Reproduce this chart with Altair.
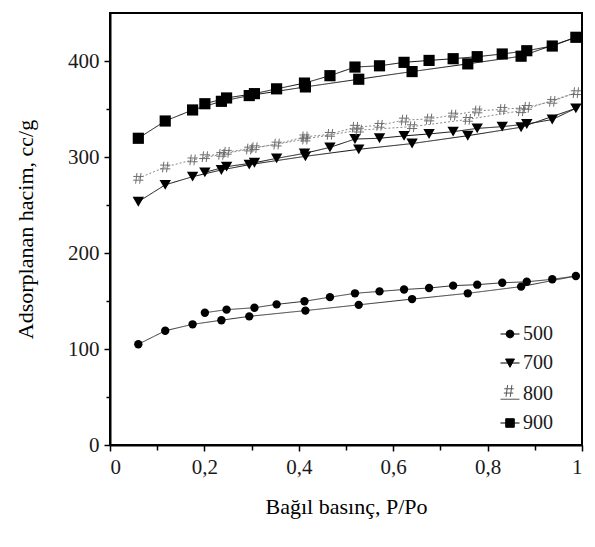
import altair as alt
import pandas as pd

SERIES = ["500", "700", "800", "900"]

# relative pressure of adsorption branch and desorption branch points
ADS_P = [0.060, 0.117, 0.175, 0.236, 0.295, 0.414, 0.527, 0.640, 0.758, 0.871, 0.987]
DES_P = [0.937, 0.883, 0.831, 0.778, 0.727, 0.676, 0.623, 0.571, 0.519, 0.466, 0.412,
         0.353, 0.306, 0.247, 0.201]

ADS_500 = [105, 119, 125.7, 130, 134, 140, 146, 152, 158, 165, 176]
DES_500 = [172.6, 170, 169, 167, 166, 163.5, 162, 160, 158, 154, 149.7, 146.5, 143, 141, 137.8]

ADS_700 = [253.4, 271, 279.5, 286.5, 292, 300.7, 308, 314, 322.2, 331, 350.7]
DES_700 = [339, 334.4, 331.6, 329.8, 326.4, 324, 322, 319.5, 318.7, 310, 303.8, 298.6, 294, 290, 284]

ADS_800 = [277.8, 289.6, 297, 302.8, 308.3, 318.7, 328, 331.6, 339.2, 348.2, 367]
DES_800 = [358, 351.7, 349.7, 348, 343.7, 339.6, 338.5, 333, 331, 323.6, 321, 313.5, 309.7, 304.9, 300.3]

ADS_900 = [319.5, 337.5, 349, 358, 364, 373, 381, 389, 397, 405, 424.7]
DES_900 = [415.6, 410.7, 407.3, 404.5, 402.4, 400.6, 398.6, 395, 393.7, 384.7, 377, 371, 366, 361.5, 355.5]

ADS = {"500": ADS_500, "700": ADS_700, "800": ADS_800, "900": ADS_900}
DES = {"500": DES_500, "700": DES_700, "800": DES_800, "900": DES_900}

X_TICKS = [0, 0.1, 0.2, 0.3, 0.4, 0.5, 0.6, 0.7, 0.8, 0.9, 1]
Y_TICKS = [0, 50, 100, 150, 200, 250, 300, 350, 400]

rows = []
for s in SERIES:
    seq = list(zip(ADS_P, ADS[s])) + list(zip(DES_P, DES[s]))
    for i, (p, v) in enumerate(seq):
        rows.append({"series": s, "p": p, "v": v, "i": i})
df = pd.DataFrame(rows)

FONT = "Liberation Serif"
HASH = "M-0.25,-1L-0.5,1M0.5,-1L0.25,1M-0.95,-0.35L0.95,-0.35M-0.95,0.35L0.95,0.35"

x_enc = alt.X(
    "p:Q",
    scale=alt.Scale(domain=[0, 1], nice=False),
    axis=alt.Axis(
        values=X_TICKS,
        labelExpr="datum.value == 0 ? '0' : datum.value == 1 ? '1' : "
                  "(round(datum.value*10) % 2 == 0 ? replace(format(datum.value, '.1f'), '.', ',') : '')",
        tickSize={"condition": {"test": "round(datum.value*10) % 2 == 0", "value": 6}, "value": 5},
        title="Bağıl basınç, P/Po",
        titlePadding=19,
        labelPadding=5,
    ),
)
y_enc = alt.Y(
    "v:Q",
    scale=alt.Scale(domain=[0, 450], nice=False),
    axis=alt.Axis(
        values=Y_TICKS,
        labelExpr="datum.value % 100 == 0 ? datum.label : ''",
        tickSize={"condition": {"test": "datum.value % 100 == 0", "value": 6}, "value": 4},
        title="Adsorplanan hacim, cc/g",
        titlePadding=30,
        labelPadding=5,
    ),
)

base = alt.Chart(df)

line_styles = {
    "500": dict(color="#333333", strokeDash=[1, 0]),
    "700": dict(color="#111111", strokeDash=[1, 0]),
    "800": dict(color="#888888", strokeDash=[2, 2]),
    "900": dict(color="#111111", strokeDash=[1, 0]),
}
line_layers = []
for k, s in enumerate(SERIES):
    enc = dict(x=x_enc, y=y_enc) if k == 0 else dict(x="p:Q", y="v:Q")
    line_layers.append(
        base.transform_filter(alt.datum.series == s)
        .mark_line(strokeWidth=1, **line_styles[s])
        .encode(order=alt.Order("i:Q"), **enc)
    )

marker_styles = {
    "500": dict(shape="circle", filled=True, size=70, color="black"),
    "700": dict(shape="triangle-down", filled=True, size=130, color="black"),
    "800": dict(shape=HASH, filled=False, size=115, color="#6e6e6e", strokeWidth=1),
    "900": dict(shape="square", filled=True, size=125, color="black"),
}
point_layers = [
    base.transform_filter(alt.datum.series == s).mark_point(opacity=1, **marker_styles[s]).encode(x="p:Q", y="v:Q")
    for s in SERIES
]

LEG_SHAPES = [
    "M-1,0L1,0M-0.42,0L-0.3,-0.3L0,-0.42L0.3,-0.3L0.42,0L0.3,0.3L0,0.42L-0.3,0.3Z",
    "M-1,0L1,0M-0.47,-0.42L0.47,-0.42L0,0.45Z",
    "M-1,0.55L1,0.55M-0.25,-0.95L-0.42,0.3M0.2,-0.95L0.03,0.3M-0.6,-0.55L0.4,-0.55M-0.65,-0.1L0.35,-0.1",
    "M-1,0L1,0M-0.45,-0.45L0.45,-0.45L0.45,0.45L-0.45,0.45Z",
]
leg = alt.Legend(
    orient="none", legendX=390, legendY=311, title=None,
    labelFont=FONT, labelFontSize=20, labelColor="#1a1a1a", labelOffset=3,
    symbolSize=361, symbolStrokeWidth=1, rowPadding=9, padding=0, symbolOpacity=1,
)
# legend-only layer (no marks drawn)
legend_layer = alt.Chart(pd.DataFrame({"series": SERIES})).transform_filter("false").mark_point(
    filled=True, strokeWidth=1
).encode(
    shape=alt.Shape("series:N", scale=alt.Scale(domain=SERIES, range=LEG_SHAPES), legend=leg),
    fill=alt.Fill("series:N", scale=alt.Scale(domain=SERIES, range=["black", "black", "transparent", "black"]), legend=leg),
    stroke=alt.Stroke("series:N", scale=alt.Scale(domain=SERIES, range=["black", "black", "#555555", "black"]), legend=leg),
)

chart = alt.layer(*line_layers, *point_layers, legend_layer).properties(
    width=472, height=432,
    autosize=alt.AutoSizeParams(type="none"),
    padding={"left": 102, "top": 5, "right": 5, "bottom": 90},
    background="white",
).configure_axis(
    grid=False,
    domainColor="black", domainWidth=2,
    tickColor="black", tickWidth=1.5,
    labelFont=FONT, labelFontSize=21, labelColor="#1a1a1a",
    titleFont=FONT, titleFontSize=22, titleFontWeight="normal", titleColor="black",
).configure_view(stroke="black", strokeWidth=2)

chart.save("out.html", embed_options={"renderer": "svg", "actions": False})
